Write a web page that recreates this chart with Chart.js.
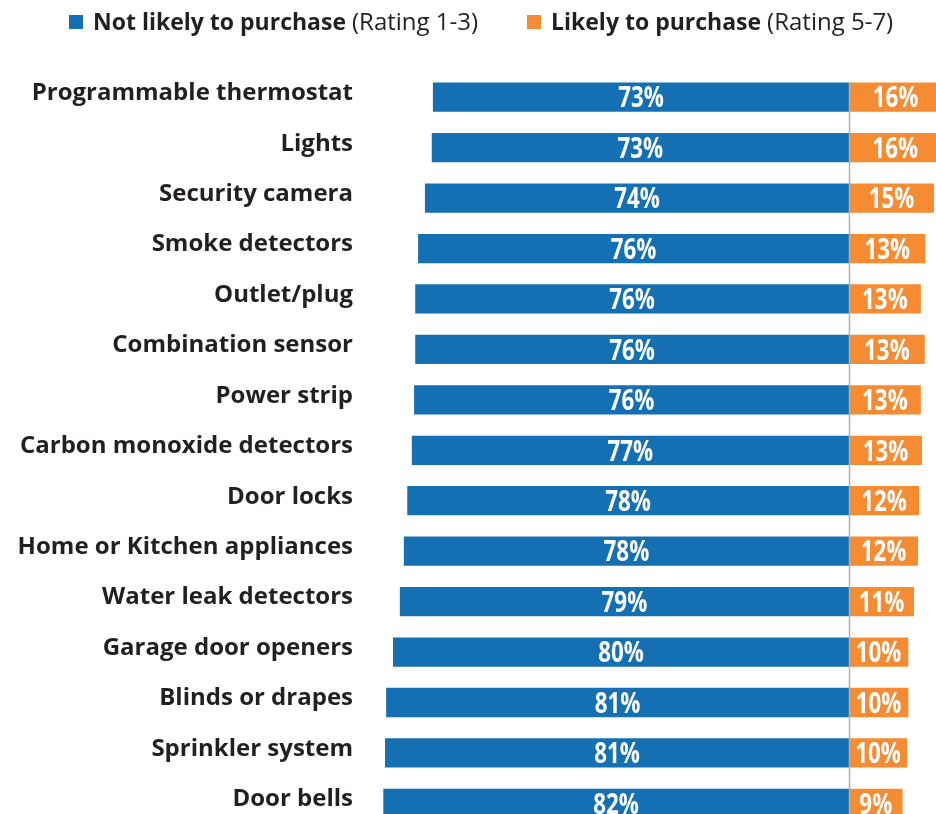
<!DOCTYPE html>
<html>
<head>
<meta charset="utf-8">
<script src="https://cdn.jsdelivr.net/npm/chart.js@4"></script>
<style>
  html, body { margin: 0; padding: 0; background: #fff; overflow: hidden; }
  #wrap { position: relative; width: 936px; height: 859px; }
  #chart { display: block; }
  .legend-item { position: absolute; top: 6px; font-family: "Open Sans", sans-serif; font-size: 23px; color: #231f20; white-space: nowrap; line-height: 30px; }
  .legend-item b { font-weight: 700; }
  .legend-item span.sub { font-weight: 400; font-size: 24px; }
  .swatch { display: inline-block; width: 14px; height: 14px; margin-right: 10px; vertical-align: 1px; }
</style>
</head>
<body>
<div id="wrap">
  <div class="legend-item" style="left:69px"><span class="swatch" style="background:#1570b3"></span><b>Not likely to purchase</b> <span class="sub">(Rating 1-3)</span></div>
  <div class="legend-item" style="left:527px"><span class="swatch" style="background:#f58b33"></span><b>Likely to purchase</b> <span class="sub">(Rating 5-7)</span></div>
  <canvas id="chart" width="936" height="859"></canvas>
</div>
<script>
// Categories, top to bottom
const categories = [
    'Programmable thermostat', 'Lights', 'Security camera', 'Smoke detectors',
    'Outlet/plug', 'Combination sensor', 'Power strip', 'Carbon monoxide detectors',
    'Door locks', 'Home or Kitchen appliances', 'Water leak detectors',
    'Garage door openers', 'Blinds or drapes', 'Sprinkler system', 'Door bells'
];

// Share rating 1-3 (drawn to the left of zero)
const notLikely = [73.0, 73.2, 74.4, 75.6, 76.1, 76.1, 76.3, 76.7, 77.5, 78.1, 78.8, 80.0, 81.2, 81.4, 81.7];

// Share rating 5-7 (drawn to the right of zero)
const likely = [16.3, 16.2, 14.9, 13.4, 12.6, 13.3, 12.6, 12.8, 12.3, 12.1, 11.4, 10.4, 10.4, 10.2, 9.4];

const BLUE = '#1570b3';
const ORANGE = '#f58b33';

// Percent labels inside the bars (squeezed horizontally to look condensed)
const barLabels = {
    id: 'barLabels',
    afterDatasetsDraw(chart) {
        const ctx = chart.ctx;
        chart.data.datasets.forEach((ds, i) => {
            chart.getDatasetMeta(i).data.forEach((bar, j) => {
                const cx = (bar.x + bar.base) / 2;
                ctx.save();
                ctx.fillStyle = '#fff';
                ctx.font = 'bold 29px "Open Sans", sans-serif';
                ctx.textAlign = 'center';
                ctx.textBaseline = 'middle';
                ctx.translate(cx, bar.y + 2);
                ctx.scale(0.77, 1);
                ctx.fillText(Math.round(Math.abs(ds.data[j])) + '%', 0, 0);
                ctx.restore();
            });
        });
    }
};

// Thin grey line at zero, on top of the bars
const zeroLine = {
    id: 'zeroLine',
    afterDatasetsDraw(chart) {
        const ctx = chart.ctx;
        const x = Math.round(chart.scales.x.getPixelForValue(0)) + 0.5;
        const first = chart.getDatasetMeta(0).data[0];
        ctx.save();
        ctx.strokeStyle = '#b0b0b0';
        ctx.lineWidth = 1.5;
        ctx.beginPath();
        ctx.moveTo(x, first.y - first.height / 2);
        ctx.lineTo(x, chart.chartArea.bottom + 20);
        ctx.stroke();
        ctx.restore();
    }
};

new Chart(document.getElementById('chart'), {
    type: 'bar',
    data: {
        labels: categories,
        datasets: [{
            label: 'Not likely to purchase (Rating 1-3)',
            data: notLikely.map(v => -v),
            backgroundColor: BLUE,
            barPercentage: 1,
            categoryPercentage: 0.58
        }, {
            label: 'Likely to purchase (Rating 5-7)',
            data: likely,
            backgroundColor: ORANGE,
            barPercentage: 1,
            categoryPercentage: 0.58
        }]
    },
    options: {
        indexAxis: 'y',
        responsive: false,
        animation: false,
        layout: { padding: { top: 72, bottom: 2, left: 0, right: 0 } },
        scales: {
            x: {
                stacked: true,
                min: -84.21,
                max: 15.26,
                display: false
            },
            y: {
                stacked: true,
                afterFit: (scale) => { scale.width = 369; },
                grid: { display: false, drawTicks: false },
                border: { display: false },
                ticks: {
                    padding: 16,
                    labelOffset: -4,
                    color: '#231f20',
                    font: { family: '"Open Sans", sans-serif', size: 24, weight: '700' }
                }
            }
        },
        plugins: {
            legend: { display: false },
            tooltip: { enabled: false }
        }
    },
    plugins: [zeroLine, barLabels]
});
</script>
</body>
</html>
